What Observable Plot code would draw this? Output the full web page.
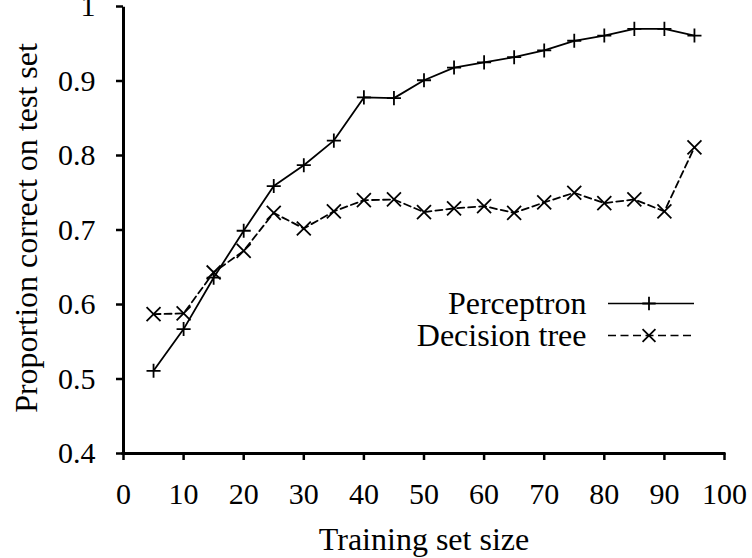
<!DOCTYPE html>
<html>
<head>
<meta charset="utf-8">
<script src="https://cdn.jsdelivr.net/npm/d3@7"></script>
<script src="https://cdn.jsdelivr.net/npm/@observablehq/plot@0.6"></script>
<style>
  body { margin: 0; background: #fff; }
  #chart svg { display: block; }
  #chart svg text { font-family: "Liberation Serif", "Times New Roman", serif; }
</style>
</head>
<body>
<div id="chart"></div>
<script>
// ---- data ----
const trainingSizes = [5, 10, 15, 20, 25, 30, 35, 40, 45, 50, 55, 60, 65, 70, 75, 80, 85, 90, 95];
const perceptron   = [0.511, 0.567, 0.636, 0.699, 0.759, 0.787, 0.820, 0.878, 0.877, 0.901, 0.918, 0.925, 0.932, 0.941, 0.954, 0.961, 0.970, 0.970, 0.961];
const decisionTree = [0.587, 0.588, 0.643, 0.672, 0.723, 0.702, 0.725, 0.740, 0.741, 0.724, 0.729, 0.732, 0.723, 0.737, 0.750, 0.736, 0.741, 0.725, 0.811];
const seriesNames  = ["Perceptron", "Decision tree"];
const xTicks = [0, 10, 20, 30, 40, 50, 60, 70, 80, 90, 100];
const yTicks = [0.4, 0.5, 0.6, 0.7, 0.8, 0.9, 1];
const yTickLabels = ["0.4", "0.5", "0.6", "0.7", "0.8", "0.9", "1"];
const xTitle = "Training set size";
const yTitle = "Proportion correct on test set";

const percRows = trainingSizes.map((x, i) => ({x, y: perceptron[i]}));
const treeRows = trainingSizes.map((x, i) => ({x, y: decisionTree[i]}));

const FONT = "'Liberation Serif', 'Times New Roman', serif";
const FS_TICK = 30;
const FS_TEXT = 32;

// legend samples drawn in frame-relative pixels
function legendSamples(index, scales, values, dims) {
  const g = d3.create("svg:g").attr("fill", "none").attr("stroke", "black");
  const right = dims.width - dims.marginRight;
  const top = dims.marginTop;
  const rows = [
    {dy: 297.5, dash: null, sym: d3.symbolPlus, size: 60},
    {dy: 329.5, dash: "8,4.5", sym: d3.symbolTimes, size: 110}
  ];
  for (const r of rows) {
    g.append("line")
      .attr("x1", right - 116).attr("x2", right - 30)
      .attr("y1", top + r.dy).attr("y2", top + r.dy)
      .attr("stroke-width", 1.5)
      .attr("stroke-dasharray", r.dash);
    g.append("path")
      .attr("d", d3.symbol(r.sym, r.size)())
      .attr("transform", `translate(${right - 75},${top + r.dy})`)
      .attr("stroke-width", 1.8);
  }
  return g.node();
}

const txt = {fontSize: FS_TEXT, fontFamily: FONT, fill: "black"};

const chart = Plot.plot({
  width: 752,
  height: 558,
  marginLeft: 123,
  marginRight: 28,
  marginTop: 6,
  marginBottom: 105,
  style: `font-family: ${FONT}; font-size: ${FS_TICK}px; color: black; background: white;`,
  x: {domain: [0, 100]},
  y: {domain: [0.4, 1]},
  marks: [
    Plot.axisX({ticks: xTicks, tickSize: 7, tickPadding: 22, fontSize: FS_TICK, fontFamily: FONT, strokeWidth: 2.5, label: null, tickFormat: d => String(d)}),
    Plot.axisY({ticks: yTicks, tickSize: 7, tickPadding: 21, fontSize: FS_TICK, fontFamily: FONT, strokeWidth: 2.5, label: null,
      tickFormat: d => yTickLabels[yTicks.indexOf(d)]}),
    Plot.ruleX([0], {y1: 0.4, y2: 0.997, strokeWidth: 3, strokeLinecap: "square"}),
    Plot.ruleY([0.4], {x1: 0, x2: 100, strokeWidth: 3, strokeLinecap: "square"}),
    Plot.line(percRows, {x: "x", y: "y", stroke: "black", strokeWidth: 1.8}),
    Plot.line(treeRows, {x: "x", y: "y", stroke: "black", strokeWidth: 1.8, strokeDasharray: "7,4"}),
    Plot.dot(percRows, {x: "x", y: "y", symbol: "plus", r: 4.6, stroke: "black", strokeWidth: 1.8}),
    Plot.dot(treeRows, {x: "x", y: "y", symbol: "times", r: 6.4, stroke: "black", strokeWidth: 1.8}),
    Plot.text([xTitle], {...txt, frameAnchor: "bottom", dy: 74, textAnchor: "middle", lineAnchor: "top"}),
    Plot.text([yTitle], {...txt, frameAnchor: "left", dx: -97, dy: -2, rotate: -90, textAnchor: "middle", lineAnchor: "middle"}),
    Plot.text([seriesNames[0]], {...txt, frameAnchor: "top-right", dx: -138, dy: 297.5, textAnchor: "end", lineAnchor: "middle"}),
    Plot.text([seriesNames[1]], {...txt, frameAnchor: "top-right", dx: -138, dy: 329.5, textAnchor: "end", lineAnchor: "middle"}),
    legendSamples
  ]
});
document.getElementById("chart").append(chart);
</script>
</body>
</html>
